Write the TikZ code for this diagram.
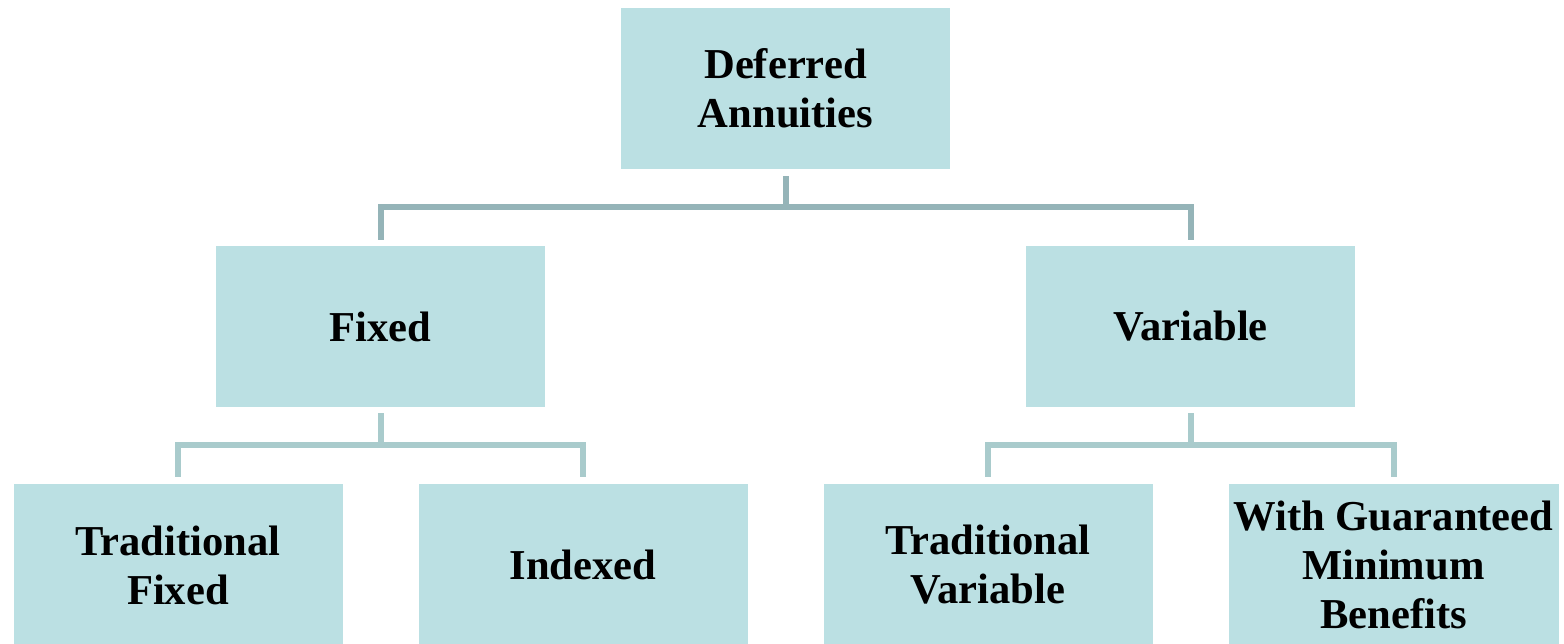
\documentclass[tikz,border=0pt]{standalone}
\usepackage{fontspec}
\setmainfont{Liberation Serif}
\definecolor{boxfill}{HTML}{BBE0E3}
\definecolor{topline}{HTML}{95B4B8}
\definecolor{lowline}{HTML}{A9CBCC}
\begin{document}
\begin{tikzpicture}[x=1pt,y=-1pt,
  box/.style={fill=boxfill,draw=none,minimum width=329pt,minimum height=161pt,inner sep=0pt,
    align=center,font=\fontsize{42.6}{49}\selectfont\bfseries},
  conn/.style={line width=6pt},
]
\useasboundingbox (0,0) rectangle (1564,643);
\clip (0,0) rectangle (1564,643);
\node[box] (root) at (785.5,88.5) {Deferred\\Annuities};
\node[box] (fixed) at (380.5,326.5) {Fixed};
\node[box] (var) at (1190.5,326.5) {Variable};
\node[box,minimum height=162pt] (tf) at (178,565) {Traditional\\Fixed};
\node[box,minimum height=162pt] (idx) at (583,565) {Indexed};
\node[box,minimum height=162pt] (tv) at (988,565) {Traditional\\Variable};
\node[box,minimum height=162pt,minimum width=330pt] (gmb) at (1393.5,565) {With Guaranteed\\Minimum\\Benefits};
% connectors
\coordinate (rj) at (786,207);
\draw[conn,topline] ([yshift=-7pt]root.south -| rj) -- (rj);
\draw[conn,topline] ([yshift=6pt]fixed.north) |- (rj) -| ([yshift=6pt]var.north);
\coordinate (fj) at (381,445);
\draw[conn,lowline] ([yshift=-6pt]fixed.south -| fj) -- (fj);
\draw[conn,lowline] ([yshift=7pt]tf.north) |- (fj) -| ([yshift=7pt]idx.north);
\coordinate (vj) at (1191,445);
\draw[conn,lowline] ([yshift=-6pt]var.south -| vj) -- (vj);
\draw[conn,lowline] ([yshift=7pt]tv.north) |- (vj) -| ([yshift=7pt]gmb.north);
\end{tikzpicture}
\end{document}
